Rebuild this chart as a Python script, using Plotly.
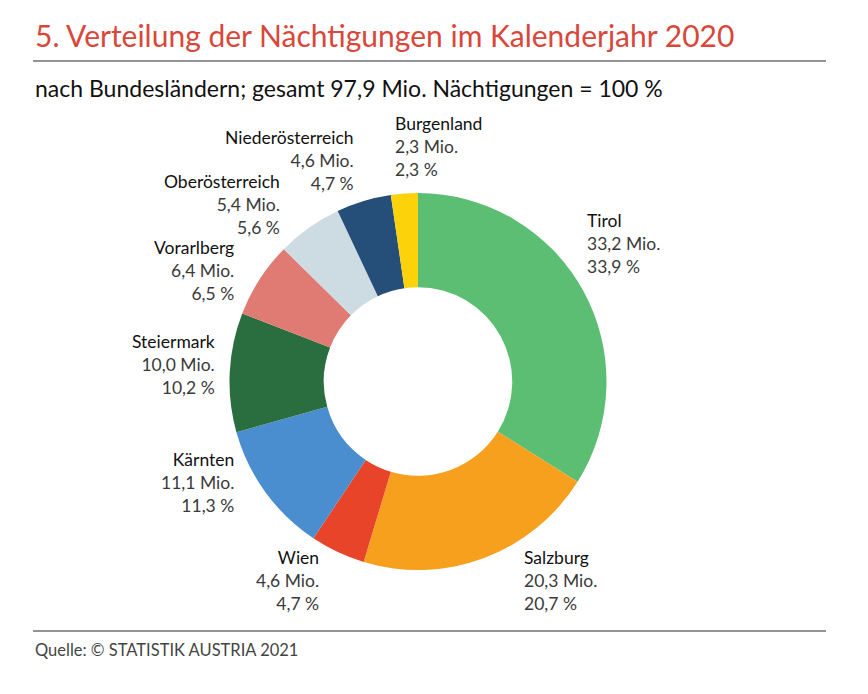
import plotly.graph_objects as go

regions = ["Tirol", "Salzburg", "Wien", "Kärnten", "Steiermark", "Vorarlberg",
           "Oberösterreich", "Niederösterreich", "Burgenland"]
mio = [33.2, 20.3, 4.6, 11.1, 10.0, 6.4, 5.4, 4.6, 2.3]
pct = [33.9, 20.7, 4.7, 11.3, 10.2, 6.5, 5.6, 4.7, 2.3]

colors = ["#5CBE72", "#F6A01E", "#E8442A", "#4A8ED0", "#2A6E3F", "#E07B74",
          "#CDDBE3", "#254F79", "#FCD30B"]

OFF = 8  # page body margin
W, H = 868 - OFF, 694 - OFF
FONT = "Lato"

# label anchor positions (reference pixels): x, y of middle line, alignment
label_pos = {
    "Tirol": (585, 243, "left"),
    "Salzburg": (522, 580, "left"),
    "Wien": (321, 580, "right"),
    "Kärnten": (236, 482, "right"),
    "Steiermark": (217, 364, "right"),
    "Vorarlberg": (236, 270, "right"),
    "Oberösterreich": (282, 205, "right"),
    "Niederösterreich": (356, 161, "right"),
    "Burgenland": (393, 146, "left"),
}

def fmt(v):
    return f"{v:.1f}".replace(".", ",")

def px(x): return (x - OFF) / W
def py(y): return 1 - (y - OFF) / H

cx, cy, r = 418, 381.5, 188.5
fig = go.Figure(go.Pie(
    labels=regions, values=pct, sort=False, direction="clockwise", rotation=0,
    hole=0.5, marker=dict(colors=colors, line=dict(width=0)),
    textinfo="none", hoverinfo="label+percent", showlegend=False,
    domain=dict(x=[px(cx - r), px(cx + r)], y=[py(cy + r), py(cy - r)]),
))

ann = []
ann.append(dict(x=px(33), y=py(35), text="5. Verteilung der Nächtigungen im Kalenderjahr 2020",
                xanchor="left", yanchor="middle", showarrow=False,
                font=dict(family=FONT, size=30, color="#D9473B")))
ann.append(dict(x=px(33), y=py(88), text="nach Bundesländern; gesamt 97,9 Mio. Nächtigungen = 100 %",
                xanchor="left", yanchor="middle", showarrow=False,
                font=dict(family=FONT, size=23, color="#111111")))
ann.append(dict(x=px(33), y=py(650), text="Quelle: © STATISTIK AUSTRIA 2021",
                xanchor="left", yanchor="middle", showarrow=False,
                font=dict(family=FONT, size=16.5, color="#444444")))

for name, m, p in zip(regions, mio, pct):
    x, y, al = label_pos[name]
    text = (f"<span style='color:#111111'>{name}</span><br>"
            f"{fmt(m)} Mio.<br>{fmt(p)} %")
    ann.append(dict(x=px(x), y=py(y), text=text, showarrow=False,
                    xanchor=al, yanchor="middle", align=al,
                    font=dict(family=FONT, size=17.5, color="#3a3a3a")))

shapes = [
    dict(type="line", xref="paper", yref="paper", x0=px(33), x1=px(826), y0=py(61), y1=py(61),
         line=dict(color="#707070", width=1.5)),
    dict(type="line", xref="paper", yref="paper", x0=px(33), x1=px(826), y0=py(631), y1=py(631),
         line=dict(color="#707070", width=1.5)),
]

fig.update_layout(width=W, height=H, margin=dict(l=0, r=0, t=0, b=0),
                  paper_bgcolor="white", plot_bgcolor="white",
                  annotations=ann, shapes=shapes, font=dict(family=FONT))

fig.write_html("out.html")
